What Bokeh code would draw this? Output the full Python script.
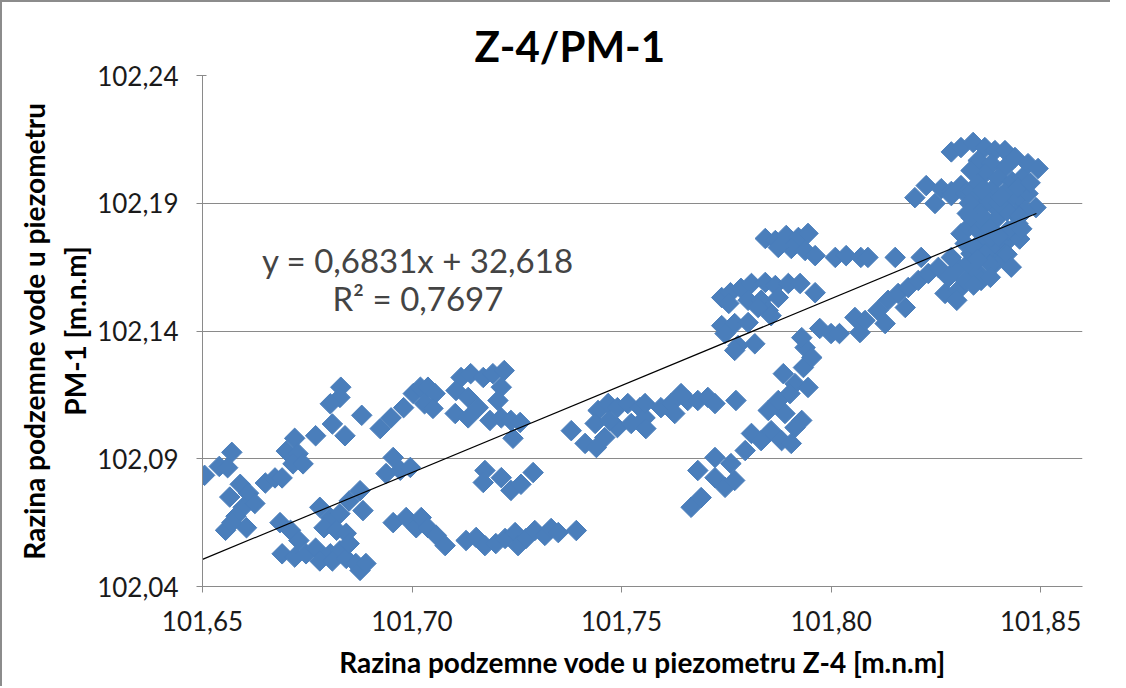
import math
from bokeh.plotting import figure
from bokeh.models import Range1d, FixedTicker, CustomJSTickFormatter, Label
from bokeh.embed import file_html
from bokeh.resources import INLINE

TITLE = "Z-4/PM-1"
X_LABEL = "Razina podzemne vode u piezometru Z-4 [m.n.m]"
Y_LABEL_1 = "Razina podzemne vode u piezometru"
Y_LABEL_2 = "PM-1 [m.n.m]"
EQUATION = "y = 0,6831x + 32,618"
R_SQUARED = "R\u00b2 = 0,7697"

X_TICKS = [101.65, 101.70, 101.75, 101.80, 101.85]
Y_TICKS = [102.04, 102.09, 102.14, 102.19, 102.24]

# Z-4 levels (x) and PM-1 levels (y)
Z4 = [
    101.6505, 101.654, 101.657, 101.656, 101.659, 101.661, 101.6565, 101.6597, 101.6625, 101.658,
    101.6605, 101.6555, 101.657, 101.665, 101.6673, 101.669, 101.672, 101.670, 101.6728, 101.6716,
    101.674, 101.677, 101.683, 101.6828, 101.6805, 101.681, 101.684, 101.688, 101.6924, 101.695,
    101.698, 101.7003, 101.702, 101.6955, 101.6938, 101.6972, 101.6996,
    101.6685, 101.671, 101.673, 101.669, 101.672, 101.6747, 101.678, 101.6805, 101.679, 101.6828,
    101.685, 101.6876, 101.6883, 101.682, 101.6843, 101.677, 101.6805, 101.6828, 101.678, 101.681,
    101.6843, 101.6866, 101.6876, 101.689, 101.685, 101.6955, 101.6986, 101.701,
    101.7038, 101.7055, 101.703, 101.705,
    101.7117, 101.714, 101.717, 101.7193, 101.722, 101.7105, 101.7134, 101.7103, 101.7134, 101.7158,
    101.7213, 101.7205, 101.7186, 101.7213, 101.7236, 101.7258, 101.7241,
    101.738, 101.7413, 101.744, 101.746, 101.7444, 101.7468, 101.749, 101.7515, 101.7544, 101.749,
    101.7523, 101.7556, 101.7437, 101.7472,
    101.7174, 101.717, 101.7213, 101.7236, 101.726, 101.7289,
    101.7022, 101.7038, 101.7058, 101.7079, 101.7129, 101.7153, 101.7174, 101.72, 101.7222, 101.7246,
    101.7253, 101.7272, 101.7293, 101.7317, 101.7332, 101.7349, 101.7392,
    101.7556, 101.7558, 101.7594, 101.7618, 101.7642, 101.7658, 101.7627, 101.7682, 101.7706, 101.7723,
    101.7773,
    101.7666, 101.769, 101.7682, 101.7723, 101.7723, 101.7747, 101.777, 101.7761, 101.7795, 101.781,
    101.7833, 101.7857, 101.785, 101.7874, 101.789, 101.7882, 101.7905, 101.7914, 101.793, 101.7886,
    101.7914, 101.7945, 101.7934, 101.7938, 101.793, 101.7954, 101.7902,
    101.7973, 101.800, 101.802, 101.8057, 101.8069,
    101.7739, 101.776, 101.7785, 101.781, 101.7843, 101.7867, 101.7898, 101.7926, 101.7962, 101.7756,
    101.7802, 101.7833, 101.7874, 101.785, 101.7826, 101.7857,
    101.7739, 101.777, 101.7802, 101.7747, 101.7778, 101.7818, 101.777,
    101.7843, 101.7867, 101.7893, 101.7922, 101.7945, 101.7905, 101.7938, 101.7962, 101.801, 101.8036,
    101.8071, 101.7874,
    101.8088, 101.8153, 101.8215,
    101.8081, 101.8112, 101.8136, 101.8129, 101.816, 101.8184, 101.8177, 101.8208, 101.8232, 101.8256,
    101.828, 101.8272, 101.8303, 101.832, 101.8303, 101.8287, 101.8327, 101.8351, 101.8358, 101.8391,
    101.8334, 101.832, 101.831, 101.8327, 101.8351, 101.8367, 101.8391, 101.8415, 101.8439, 101.8446,
    101.8422, 101.8382, 101.8343, 101.8367, 101.8415,
    101.8351, 101.8382, 101.8415, 101.8446, 101.847, 101.8489, 101.8463, 101.8439, 101.8398, 101.8358,
    101.8334,
    101.820, 101.8227, 101.8248, 101.8263, 101.8287, 101.831, 101.8287, 101.832, 101.8334,
    101.8287, 101.831, 101.8339, 101.8367, 101.8391, 101.8415, 101.8439, 101.847, 101.8494, 101.8351,
    101.8382, 101.8415, 101.8367, 101.8398, 101.8432, 101.8456, 101.8351, 101.8382, 101.8415, 101.8446,
    101.8343, 101.8375, 101.8334,
    101.836, 101.838, 101.840, 101.842, 101.845, 101.836, 101.840, 101.833, 101.845, 101.842,
    101.838, 101.835, 101.843, 101.834, 101.838, 101.830, 101.8405, 101.8475, 101.8455, 101.8325,
]
PM1 = [
    102.0835, 102.087, 102.0925, 102.0865, 102.080, 102.0765, 102.075, 102.071, 102.0725, 102.0675,
    102.063, 102.062, 102.065, 102.0805, 102.0825, 102.0825, 102.098, 102.093, 102.092, 102.088,
    102.088, 102.099, 102.118, 102.114, 102.1115, 102.1036, 102.099, 102.107, 102.1018, 102.106,
    102.110, 102.1155, 102.118, 102.0905, 102.0842, 102.0855, 102.0866,
    102.065, 102.062, 102.058, 102.0528, 102.0515, 102.0528, 102.071, 102.067, 102.063, 102.0685,
    102.0735, 102.0775, 102.0697, 102.062, 102.0608, 102.055, 102.0528, 102.054, 102.050, 102.050,
    102.051, 102.049, 102.0463, 102.049, 102.0568, 102.065, 102.067, 102.063,
    102.118, 102.1155, 102.1115, 102.1097,
    102.1218, 102.1233, 102.1218, 102.1233, 102.1245, 102.1167, 102.114, 102.1077, 102.106, 102.110,
    102.118, 102.1128, 102.105, 102.106, 102.105, 102.1042, 102.098,
    102.101, 102.096, 102.0944, 102.0983, 102.1089, 102.1116, 102.110, 102.1116, 102.110, 102.1022,
    102.1038, 102.106, 102.1038, 102.105,
    102.0854, 102.0807, 102.0826, 102.0776, 102.080, 102.0846,
    102.067, 102.063, 102.060, 102.056, 102.058, 102.0592, 102.056, 102.0568, 102.0588, 102.0611,
    102.056, 102.0588, 102.0619, 102.060, 102.0627, 102.0611, 102.0619,
    102.1116, 102.1018, 102.110, 102.1116, 102.1155, 102.1128, 102.1077, 102.1128, 102.114, 102.1116,
    102.1128,
    102.071, 102.0748, 102.0854, 102.0905, 102.0826, 102.0788, 102.0815, 102.0881, 102.0932, 102.0999,
    102.0971, 102.101, 102.1089, 102.1128, 102.1077, 102.0971, 102.096, 102.1022, 102.105, 102.1233,
    102.1194, 102.1179, 102.1257, 102.1335, 102.1374, 102.1296, 102.1155,
    102.141, 102.139, 102.139, 102.1453, 102.1394,
    102.1531, 102.155, 102.1567, 102.1586, 102.159, 102.1578, 102.1586, 102.1586, 102.155, 102.1508,
    102.152, 102.152, 102.1531, 102.148, 102.1492, 102.146,
    102.1421, 102.1429, 102.1433, 102.139, 102.1343, 102.135, 102.1324,
    102.1762, 102.1754, 102.1774, 102.1766, 102.1782, 102.1723, 102.1715, 102.1695, 102.1688, 102.1695,
    102.1688, 102.1727,
    102.1688, 102.1688, 102.1688,
    102.1441, 102.148, 102.152, 102.1429, 102.1547, 102.157, 102.1492, 102.1598, 102.1625, 102.1649,
    102.161, 102.1547, 102.1559, 102.1598, 102.1649, 102.1688, 102.1664, 102.1625, 102.1598, 102.1664,
    102.1703, 102.1742, 102.1781, 102.1805, 102.1793, 102.1754, 102.1727, 102.1742, 102.1781, 102.182,
    102.1793, 102.1766, 102.1727, 102.1703, 102.1703,
    102.1871, 102.1899, 102.1899, 102.1922, 102.1938, 102.1883, 102.1871, 102.1859, 102.1844, 102.1832,
    102.1844,
    102.1922, 102.1969, 102.1899, 102.1957, 102.1946, 102.1969, 102.193, 102.1938, 102.1946,
    102.2101, 102.2118, 102.2138, 102.2118, 102.2106, 102.2106, 102.2079, 102.2055, 102.2036, 102.2067,
    102.2055, 102.204, 102.2016, 102.200, 102.1985, 102.200, 102.1977, 102.195, 102.1942, 102.1961,
    102.1922, 102.1911, 102.2028,
    102.185, 102.180, 102.177, 102.187, 102.185, 102.195, 102.190, 102.190, 102.176, 102.170,
    102.166, 102.168, 102.165, 102.158, 102.161, 102.152, 102.1925, 102.198, 102.180, 102.186,
]

# linear trend line end points
TREND_X = [101.650, 101.849]
TREND_Y = [102.0506, 102.186]

FONT = "Lato"
GRID = "#8a8a8a"
BLUE = "#4A7EBB"

p = figure(width=1110, height=686, output_backend="svg", toolbar_location=None,
           x_range=Range1d(101.65, 101.86), y_range=Range1d(102.04, 102.24),
           min_border_left=200, min_border_right=30, min_border_top=73, min_border_bottom=102,
           background_fill_color="white", border_fill_color="white")
p.styles = {"border-left": "2px solid #8c8c8c", "border-top": "2px solid #8c8c8c"}
p.outline_line_color = None

p.title.text = TITLE
p.title.text_font = FONT
p.title.text_font_style = "bold"
p.title.text_font_size = "42px"
p.title.text_color = "black"
p.title.align = "left"
p.title.offset = 272
p.title.standoff = 10

fmt = CustomJSTickFormatter(code="return tick.toFixed(2).replace('.', ',');")
for ax, ticks in ((p.xaxis[0], X_TICKS), (p.yaxis[0], Y_TICKS)):
    ax.ticker = FixedTicker(ticks=ticks)
    ax.formatter = fmt
    ax.axis_line_color = GRID
    ax.major_tick_line_color = GRID
    ax.minor_tick_line_color = None
    ax.major_label_text_font = FONT
    ax.major_label_text_font_size = "26px"
    ax.major_label_text_color = "#1a1a1a"
    ax.major_tick_out = 6
    ax.axis_label_text_font = FONT
    ax.axis_label_text_font_style = "bold"
    ax.axis_label_text_font_size = "28px"
    ax.axis_label_text_color = "black"
p.xaxis.major_tick_in = 0
p.yaxis.major_tick_in = 4
p.xaxis.major_label_standoff = 18
p.yaxis.major_label_standoff = 18
p.xaxis.axis_label = X_LABEL
p.xaxis.axis_label_standoff = 11
p.yaxis.axis_label = Y_LABEL_1 + "\n" + Y_LABEL_2
p.yaxis.axis_label_standoff = 2

p.xgrid.grid_line_color = None
p.ygrid.grid_line_color = GRID
p.ygrid.grid_line_width = 1

p.scatter(Z4, PM1, marker="square", size=14.5, angle=math.pi / 4,
          fill_color=BLUE, line_color=BLUE, line_width=1)
p.line(TREND_X, TREND_Y, line_color="black", line_width=1.2)

p.add_layout(Label(x=101.7014, y=102.1676, text=EQUATION, text_font=FONT,
                   text_font_size="33px", text_align="center", text_baseline="alphabetic"))
p.add_layout(Label(x=101.7014, y=102.1531, text=R_SQUARED, text_font=FONT,
                   text_font_size="33px", text_align="center", text_baseline="alphabetic"))

open("out.html", "w").write(file_html(p, INLINE))
